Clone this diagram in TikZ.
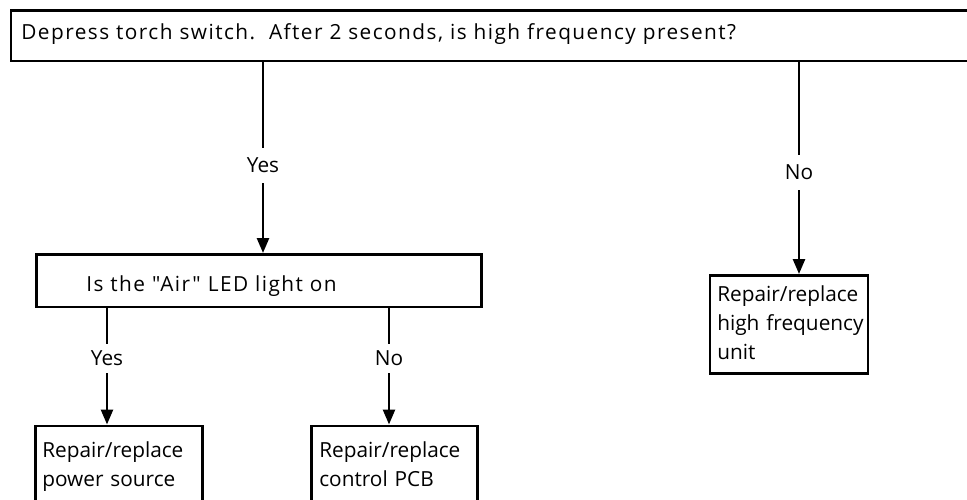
\documentclass[tikz,border=0pt]{standalone}
\usepackage{fontspec}
\setmainfont{Open Sans}[Ligatures=TeXOff]
\newfontfamily\trackfont{Open Sans}[Ligatures=TeXOff, LetterSpace=7]
\usetikzlibrary{arrows.meta}
\begin{document}
\begin{tikzpicture}[x=1pt,y=-1pt,
  every node/.style={font=\fontsize{20.8pt}{29pt}\selectfont},
  tracked/.style={font=\trackfont\fontsize{20.8pt}{29pt}\selectfont},
  box/.style={draw, line width=2.6pt, rectangle, anchor=north west, inner sep=0pt, align=left},
  arr/.style={-{Triangle[width=12pt,length=15pt]}, line width=2.6pt},
  lbl/.style={fill=white, inner xsep=2pt, inner ysep=10pt}]
\useasboundingbox (0,0) rectangle (967,499);
\clip (0,0) rectangle (967,499);
% boxes
\node[box, tracked, minimum width=975.5pt, minimum height=50.4pt, text width=954.5pt,
      text height=28.7pt, text depth=21.7pt] (top) at (9.5,9.3)
  {\mbox{Depress torch switch.\ \ After 2 seconds, is high frequency present?}};
\node[box, tracked, minimum width=445pt, minimum height=52.7pt, text width=345pt,
      text height=37pt, text depth=15.7pt] (air) at (35,253)
  {\mbox{Is the "Air" LED light on}};
\node[box, minimum width=158pt, minimum height=98pt, text width=143pt,
      text height=26pt, text depth=72pt] (hf) at (708.5,274)
  {\mbox{Repair/replace}\\\mbox{high frequency}\\\mbox{unit}};
\node[box, minimum width=167pt, minimum height=95.5pt, text width=153pt,
      text height=31.5pt, text depth=64pt] (ps) at (34,424.5)
  {\mbox{Repair/replace}\\\mbox{power source}};
\node[box, minimum width=166pt, minimum height=95.5pt, text width=150pt,
      text height=31.5pt, text depth=64pt] (pcb) at (310,424.5)
  {\mbox{Repair/replace}\\\mbox{control PCB}};
% connector columns
\coordinate (xa) at (263,0);
\coordinate (xb) at (799,0);
\coordinate (xc) at (107,0);
\coordinate (xd) at (389,0);
% connectors
\draw[arr] (top.south -| xa) -- node[lbl, pos=0.54] (l1) {Yes} (air.north -| xa);
\draw[arr] (top.south -| xb) -- node[lbl, pos=0.52] (l2) {No} (hf.north -| xb);
\draw[arr] (air.south -| xc) -- node[lbl, pos=0.43, inner ysep=7pt] (l3) {Yes} (ps.north -| xc);
\draw[arr] (air.south -| xd) -- node[lbl, pos=0.43, inner ysep=7pt] (l4) {No} (pcb.north -| xd);
\end{tikzpicture}
\end{document}
